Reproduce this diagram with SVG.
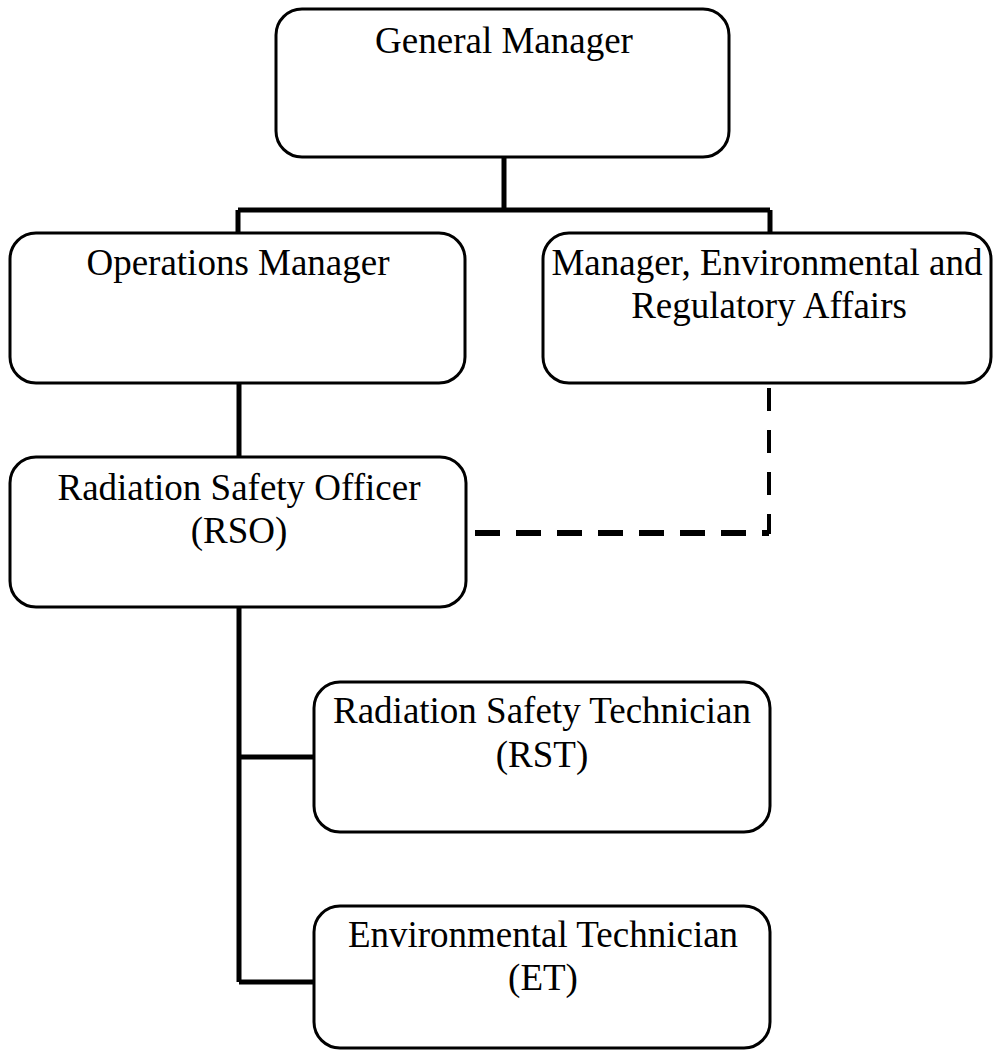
<svg xmlns="http://www.w3.org/2000/svg" width="996" height="1052" viewBox="0 0 996 1052">
<style>
.box{fill:#fff;stroke:#000;stroke-width:3}
.t{font-family:"Liberation Serif","Times New Roman",serif;font-size:37px;fill:#000;text-anchor:middle}
.solid{fill:none;stroke:#000;stroke-width:5}
</style>
<rect width="996" height="1052" fill="#fff"/>
<g id="connectors">
<path class="solid" d="M504,157 V210 M238,210 H770 M238,210 V233 M770,210 V233"/>
<path class="solid" d="M239,383 V457"/>
<path class="solid" d="M239,607 V982 M239,757 H314 M239,982 H314"/>
<path fill="none" stroke="#000" stroke-width="4" stroke-dasharray="23,19" d="M769,388 V534"/>
<path fill="none" stroke="#000" stroke-width="6" stroke-dasharray="25,16" d="M475,533 H769"/>
</g>
<g id="gm"><rect class="box" x="276" y="9" width="453" height="148" rx="26"/><text class="t" x="504" y="53">General Manager</text></g>
<g id="ops"><rect class="box" x="10" y="233" width="455" height="150" rx="26"/><text class="t" x="238" y="275">Operations Manager</text></g>
<g id="mera"><rect class="box" x="543" y="233" width="448" height="150" rx="26"/><text class="t" x="767" y="275">Manager, Environmental and</text><text class="t" x="769" y="318">Regulatory Affairs</text></g>
<g id="rso"><rect class="box" x="10" y="457" width="456" height="150" rx="26"/><text class="t" x="239" y="500">Radiation Safety Officer</text><text class="t" x="239" y="543">(RSO)</text></g>
<g id="rst"><rect class="box" x="314" y="682" width="456" height="150" rx="26"/><text class="t" x="542" y="723">Radiation Safety Technician</text><text class="t" x="542" y="767">(RST)</text></g>
<g id="et"><rect class="box" x="314" y="906" width="456" height="142" rx="26"/><text class="t" x="543" y="947">Environmental Technician</text><text class="t" x="543" y="990">(ET)</text></g>
</svg>
